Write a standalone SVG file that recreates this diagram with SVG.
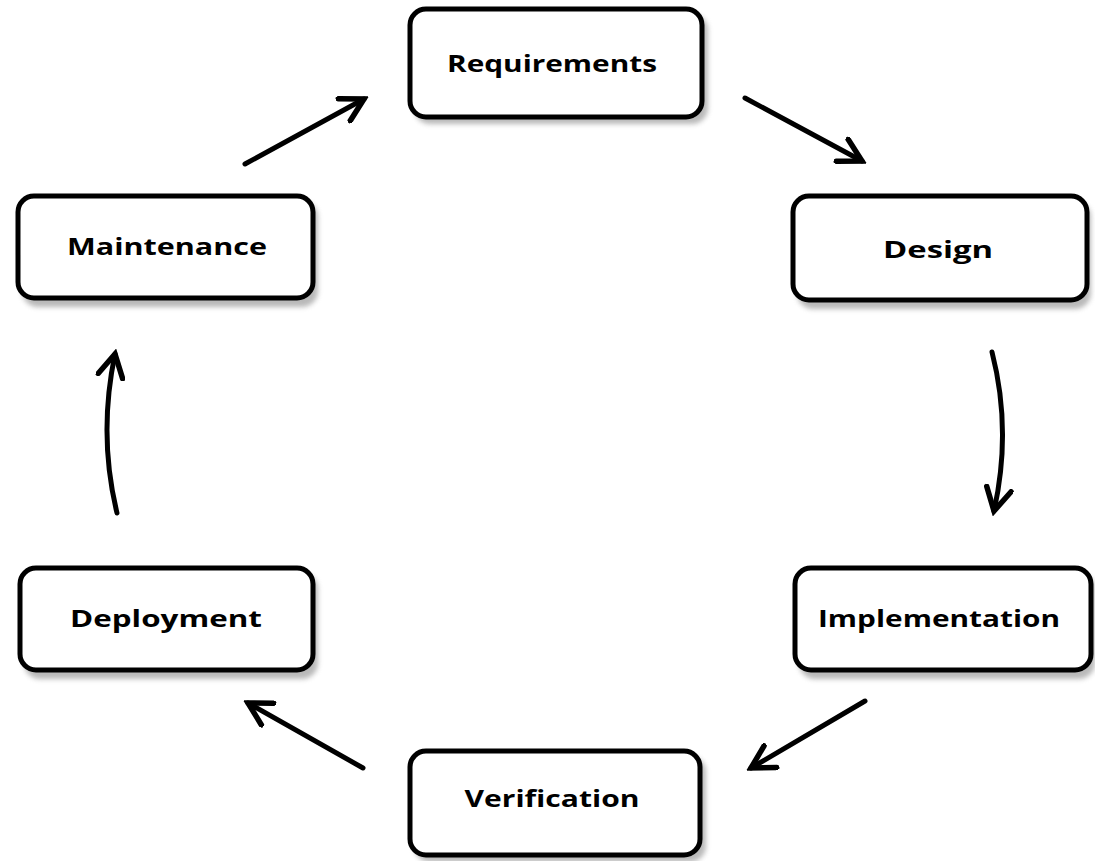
<svg xmlns="http://www.w3.org/2000/svg" width="1095" height="861" viewBox="0 0 1095 861">
  <style>
    .box { fill: #ffffff; stroke: #000000; stroke-width: 5; }
    .shadow { fill: #8a8a8a; opacity: 0.6; filter: url(#soft); }
    .label { font-family: "Open Sans", "Liberation Sans", sans-serif; font-weight: 700; font-size: 23px; fill: #000000; text-anchor: middle; }
    .edge { fill: none; stroke: #000000; stroke-width: 5; stroke-linecap: round; marker-end: url(#head); }
  </style>
  <defs>
    <filter id="soft" x="-10%" y="-10%" width="120%" height="130%">
      <feGaussianBlur stdDeviation="2.5"/>
    </filter>
    <marker id="head" viewBox="0 0 12 12" refX="10" refY="6" markerWidth="30" markerHeight="30" markerUnits="userSpaceOnUse" orient="auto">
      <path d="M1,1 L10,6 L1,11" fill="none" stroke="#000" stroke-width="2.2" stroke-linejoin="miter" stroke-linecap="round"/>
    </marker>
  </defs>

  <rect width="1095" height="861" fill="#ffffff"/>

  <!-- stages -->
  <g id="requirements">
    <rect class="shadow" x="414" y="14" width="294" height="110" rx="16"/>
    <rect class="box" x="410" y="9" width="292" height="108" rx="16"/>
    <text class="label" x="552" y="72" textLength="210" lengthAdjust="spacingAndGlyphs">Requirements</text>
  </g>

  <g id="design">
    <rect class="shadow" x="797" y="201" width="294" height="108" rx="16"/>
    <rect class="box" x="793" y="196" width="294" height="104" rx="16"/>
    <text class="label" x="938" y="258" textLength="110" lengthAdjust="spacingAndGlyphs">Design</text>
  </g>

  <g id="implementation">
    <rect class="shadow" x="799" y="573" width="296" height="106" rx="16"/>
    <rect class="box" x="795" y="568" width="296" height="102" rx="16"/>
    <text class="label" x="939" y="627" textLength="242" lengthAdjust="spacingAndGlyphs">Implementation</text>
  </g>

  <g id="verification">
    <rect class="shadow" x="414" y="756" width="292" height="106" rx="16"/>
    <rect class="box" x="410" y="751" width="290" height="104" rx="16"/>
    <text class="label" x="552" y="807" textLength="175" lengthAdjust="spacingAndGlyphs">Verification</text>
  </g>

  <g id="deployment">
    <rect class="shadow" x="24" y="573" width="294" height="106" rx="16"/>
    <rect class="box" x="20" y="568" width="293" height="102" rx="16"/>
    <text class="label" x="166" y="627" textLength="192" lengthAdjust="spacingAndGlyphs">Deployment</text>
  </g>

  <g id="maintenance">
    <rect class="shadow" x="22" y="201" width="296" height="106" rx="16"/>
    <rect class="box" x="18" y="196" width="295" height="102" rx="16"/>
    <text class="label" x="167" y="255" textLength="200" lengthAdjust="spacingAndGlyphs">Maintenance</text>
  </g>

  <!-- cycle connectors -->
  <g id="connectors">
    <path class="edge" d="M245,164 L364,99"/>
    <path class="edge" d="M745,98 L862,161"/>
    <path class="edge" d="M992,352 Q1012,430 994,511"/>
    <path class="edge" d="M865,701 L751,768"/>
    <path class="edge" d="M363,768 L248,703"/>
    <path class="edge" d="M117,513 Q98,435 115,354"/>
  </g>
</svg>
